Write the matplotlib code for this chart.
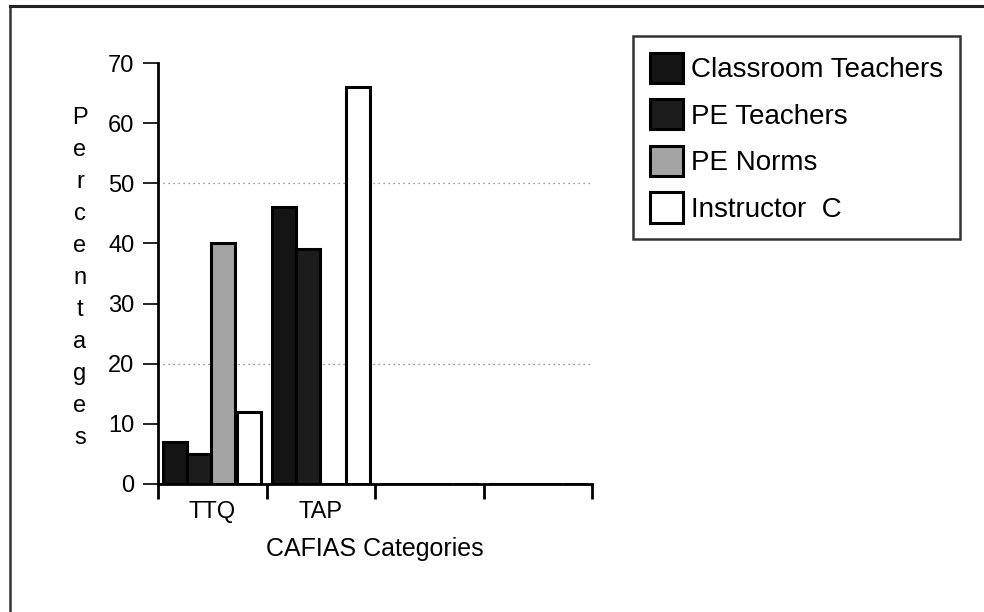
import numpy as np
import matplotlib.pyplot as plt
from matplotlib.lines import Line2D

plt.rcParams['font.family'] = ['Liberation Sans', 'DejaVu Sans']

# CAFIAS category data (percent)
categories = ['TTQ', 'TAP', '', '']
series_names = ['Classroom Teachers', 'PE Teachers', 'PE Norms', 'Instructor  C']
classroom_teachers = [7, 46, 0, 0]
pe_teachers = [5, 39, 0, 0]
pe_norms = [40, 0, 0, 0]
instructor_c = [12, 66, 0, 0]
yticks = [0, 10, 20, 30, 40, 50, 60, 70]

fig = plt.figure(figsize=(9.84, 6.12), dpi=100)
ax = fig.add_axes([158 / 984, 1 - 484 / 612, (592 - 158) / 984, (484 - 63) / 612])

x = np.arange(len(categories))
width = 0.22
offsets = [-0.34, -0.12, 0.10, 0.34]
fills = ['#141414', '#1c1c1c', '#a4a4a4', 'white']
values = [classroom_teachers, pe_teachers, pe_norms, instructor_c]
for off, col, vals, name in zip(offsets, fills, values, series_names):
    ax.bar(x + off, vals, width, color=col, edgecolor='black', linewidth=2.2, label=name)

# broken dotted reference lines
for yv in (20, 50):
    ax.axhline(yv, color='#777777', linestyle=(0, (1, 3)), linewidth=0.9, zorder=0)

ax.set_xlim(-0.5, 3.5)
ax.set_ylim(0, 70)
ax.set_yticks(yticks)
ax.set_yticklabels([str(v) for v in yticks], fontsize=17)
ax.set_xticks(np.arange(len(categories) + 1) - 0.5)
ax.set_xticklabels([])
ax.set_xticks(x, minor=True)
ax.set_xticklabels(categories, minor=True, fontsize=17)
ax.tick_params(axis='x', which='minor', length=0, pad=12)
ax.tick_params(axis='x', which='major', direction='out', length=11, width=2)
ax.tick_params(axis='y', direction='out', length=11, width=1.2, pad=6)

for side in ('top', 'right'):
    ax.spines[side].set_visible(False)
for side in ('left', 'bottom'):
    ax.spines[side].set_linewidth(2)

ax.set_xlabel('CAFIAS Categories', fontsize=18, labelpad=10)

# vertical stacked y label
ylabel = 'Percentages'
for i, ch in enumerate(ylabel):
    fig.text(80 / 984, 1 - (118 + i * 32) / 612, ch, fontsize=17,
             ha='center', va='center')

leg = ax.legend(loc='upper left', bbox_to_anchor=(633 / 984, 1 - 36 / 612),
                bbox_transform=fig.transFigure, borderaxespad=0, fontsize=20,
                frameon=True, fancybox=False, handlelength=1.2, handleheight=1.3,
                handletextpad=0.3, labelspacing=0.58, borderpad=0.6)
leg.get_frame().set_edgecolor('black')
leg.get_frame().set_linewidth(1.8)

# outer border of the figure
fig.add_artist(Line2D([10 / 984, 10 / 984], [0, 1 - 6 / 612], transform=fig.transFigure,
                      color='#333333', linewidth=1.8))
fig.add_artist(Line2D([10 / 984, 1], [1 - 6 / 612, 1 - 6 / 612], transform=fig.transFigure,
                      color='#222222', linewidth=2.2))

fig.savefig('out.png', dpi=100)
